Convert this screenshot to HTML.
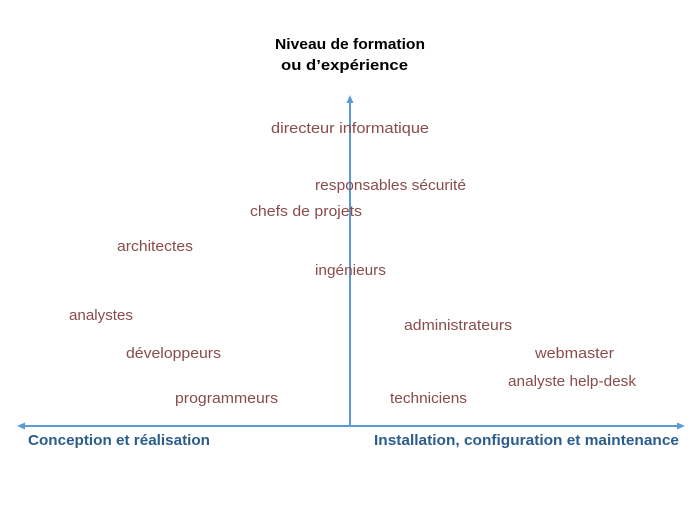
<!DOCTYPE html>
<html><head><meta charset="utf-8"><style>
html,body{margin:0;padding:0;background:#fff;}
svg{display:block;}
text{font-family:"Liberation Sans",sans-serif;}
.r{fill:#8a4b4b;font-size:15px;}
.t{fill:#000;font-size:15px;font-weight:bold;}
.b{fill:#2a5d8c;font-size:15px;font-weight:bold;}
</style></head><body>
<svg width="700" height="525" viewBox="0 0 700 525" xmlns="http://www.w3.org/2000/svg">
<defs>
<marker id="a" markerWidth="9" markerHeight="9" refX="6" refY="4.5" orient="auto" markerUnits="userSpaceOnUse">
<path d="M0,1 L8,4.5 L0,8 Z" fill="#5b9bd5"/></marker>
</defs>
<line x1="350" y1="426" x2="350" y2="97" stroke="#5b9bd5" stroke-width="2" marker-end="url(#a)"/>
<line x1="350" y1="426" x2="683" y2="426" stroke="#5b9bd5" stroke-width="2" marker-end="url(#a)"/>
<line x1="350" y1="426" x2="19" y2="426" stroke="#5b9bd5" stroke-width="2" marker-end="url(#a)"/>
<text class="t" x="275" y="49" textLength="150" lengthAdjust="spacingAndGlyphs">Niveau de formation</text>
<text class="t" x="281" y="70" textLength="127" lengthAdjust="spacingAndGlyphs">ou d’expérience</text>
<text class="r" x="271" y="133" textLength="158" lengthAdjust="spacingAndGlyphs">directeur informatique</text>
<text class="r" x="315" y="190" textLength="151" lengthAdjust="spacingAndGlyphs">responsables sécurité</text>
<text class="r" x="250" y="216" textLength="112" lengthAdjust="spacingAndGlyphs">chefs de projets</text>
<text class="r" x="117" y="251" textLength="76" lengthAdjust="spacingAndGlyphs">architectes</text>
<text class="r" x="315" y="275" textLength="71" lengthAdjust="spacingAndGlyphs">ingénieurs</text>
<text class="r" x="69" y="320" textLength="64" lengthAdjust="spacingAndGlyphs">analystes</text>
<text class="r" x="404" y="330" textLength="108" lengthAdjust="spacingAndGlyphs">administrateurs</text>
<text class="r" x="126" y="358" textLength="95" lengthAdjust="spacingAndGlyphs">développeurs</text>
<text class="r" x="535" y="358" textLength="79" lengthAdjust="spacingAndGlyphs">webmaster</text>
<text class="r" x="508" y="386" textLength="128" lengthAdjust="spacingAndGlyphs">analyste help-desk</text>
<text class="r" x="175" y="403" textLength="103" lengthAdjust="spacingAndGlyphs">programmeurs</text>
<text class="r" x="390" y="403" textLength="77" lengthAdjust="spacingAndGlyphs">techniciens</text>
<text class="b" x="28" y="445" textLength="182" lengthAdjust="spacingAndGlyphs">Conception et réalisation</text>
<text class="b" x="374" y="445" textLength="305" lengthAdjust="spacingAndGlyphs">Installation, configuration et maintenance</text>
</svg>
</body></html>
